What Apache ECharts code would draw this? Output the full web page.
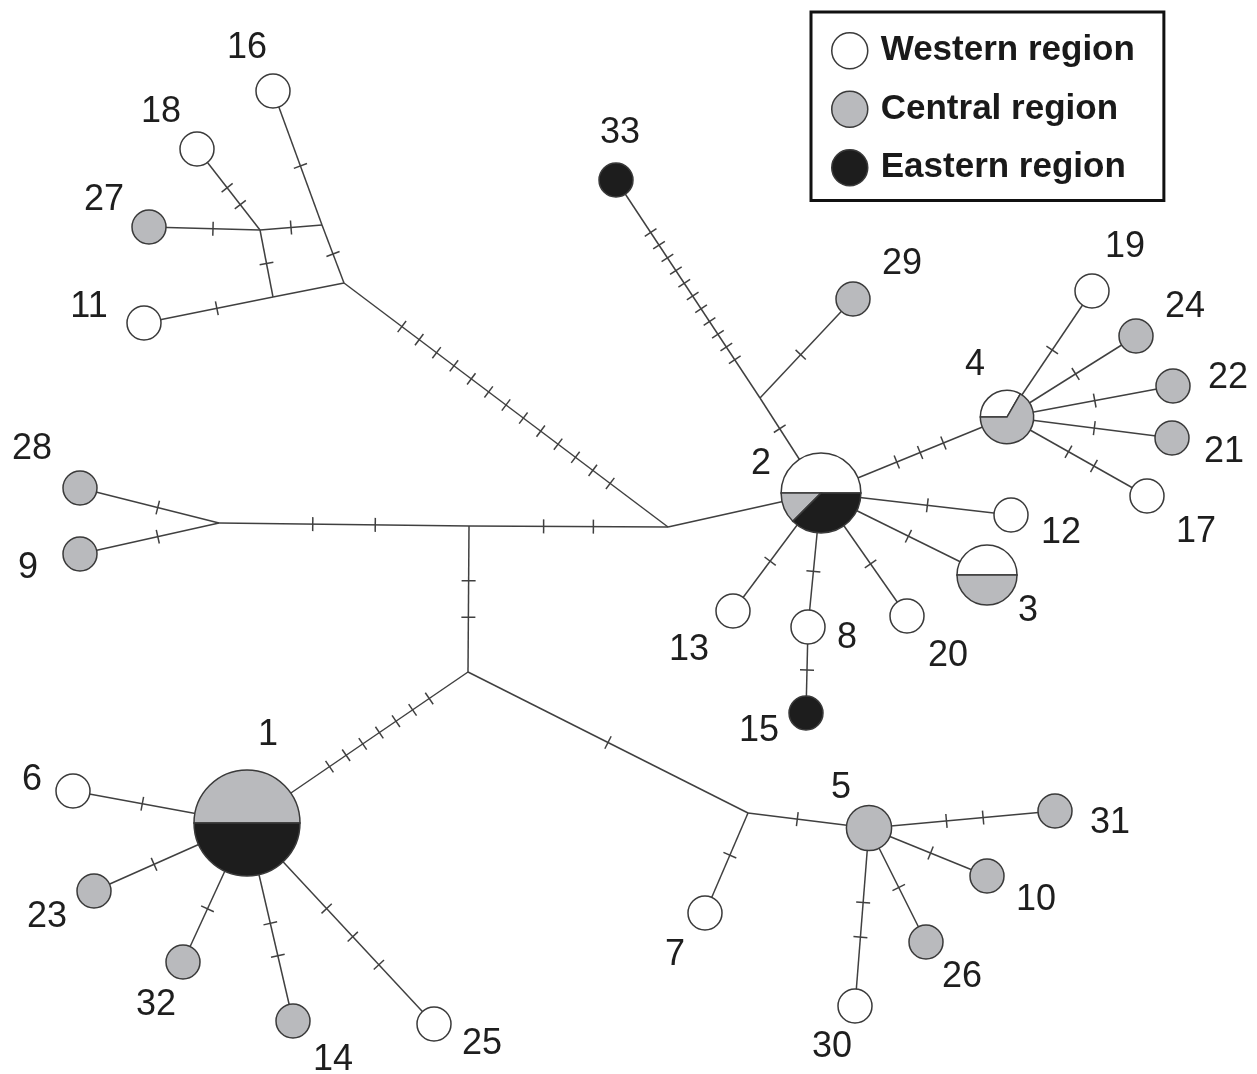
<!DOCTYPE html>
<html>
<head>
<meta charset="utf-8">
<script src="https://cdn.jsdelivr.net/npm/echarts@6/dist/echarts.min.js"></script>
<style>
  html, body { margin: 0; padding: 0; background: #fff; }
  #chart { width: 1257px; height: 1074px; }
</style>
</head>
<body>
<div id="chart"></div>
<script>
// haplotypes 1..33 and how many samples of each region they hold
const haplotypes = ['1','2','3','4','5','6','7','8','9','10','11','12','13','14','15','16','17',
  '18','19','20','21','22','23','24','25','26','27','28','29','30','31','32','33'];
const western = [0,4,2,1,0,1,1,1,0,0,1,1,1,0,0,1,1,1,1,1,0,0,0,0,1,0,0,0,0,1,0,0,0];
const central = [8,1,2,2,2,0,0,0,1,1,0,0,0,1,0,0,0,0,0,0,1,1,1,1,0,1,1,1,1,0,1,1,0];
const eastern = [8,3,0,0,0,0,0,0,0,0,0,0,0,0,1,0,0,0,0,0,0,0,0,0,0,0,0,0,0,0,0,0,1];
const regionNames = ['Western region', 'Central region', 'Eastern region'];

// network layout (drawing space, same units as the axes)
const hapX = [247,821,987,1007,869,73,705,808,80,987,144,1011,733,293,806,273,1147,
  197,1092,907,1172,1173,94,1136,434,926,149,80,853,855,1055,183,616];
const hapY = [823,493,575,417,828,791,913,627,554,876,323,515,611,1021,713,91,496,
  149,291,616,438,386,891,336,1024,942,227,488,299,1006,811,962,180];
// median vectors (unsampled nodes)
const medians = ['mA','mB','mC','mD','mE','mF','mG','mH','mI','mJ'];
const medX = [260,322,273,344,668,219,469,468,748,760];
const medY = [230,225,297,283,527,523,526,672,813,398];
// label anchors for each haplotype
const labelX = [268,761,1028,975,841,32,675,847,28,1036,89,1061,689,333,759,247,1196,
  161,1125,948,1224,1228,47,1185,482,962,104,32,902,832,1110,156,620];
const labelY = [735,464,611,365,788,780,955,638,568,900,307,533,650,1060,731,48,532,
  112,247,656,452,378,917,307,1044,977,200,449,264,1047,823,1005,133];

// links and number of mutation steps on each
const edgeFrom  = ['16','18','27','mA','mA','mB','11','mC','mD','mF','mG','28','9','mG','mH',
  '1','1','1','1','1','mH','mI','mI','5','5','5','5','mE','2','mJ','mJ','2',
  '4','4','4','4','4','2','2','2','2','8','2'];
const edgeTo    = ['mB','mA','mA','mB','mC','mD','mC','mD','mE','mG','mE','mF','mF','mH','1',
  '6','23','32','14','25','mI','5','7','31','10','26','30','2','mJ','33','29','4',
  '19','24','22','21','17','12','3','20','8','15','13'];
const edgeSteps = [1,2,1,1,1,1,1,0,13,2,2,1,1,2,7,
  1,1,1,2,3,1,1,1,2,1,1,2,0,1,11,1,3,
  1,1,1,1,2,1,1,1,1,1,1];

const fills = ['#ffffff', '#b9babd', '#1d1d1d'];
const stroke = '#3a3a3a';
const edgeColor = '#404040';
// white slice of haplotype 4 starts up-right
const sliceStart = { '4': -60 };

const pos = {};
haplotypes.forEach((h, i) => { pos[h] = [hapX[i], hapY[i]]; });
medians.forEach((m, i) => { pos[m] = [medX[i], medY[i]]; });

function total(id) {
  const i = haplotypes.indexOf(id);
  return i < 0 ? 0 : western[i] + central[i] + eastern[i];
}
function radius(id) {
  const n = total(id);
  return n ? 17 * Math.pow(n, 0.41) : 0;
}

function renderEdge(params, api) {
  const i = params.dataIndex;
  const p1 = api.coord([api.value(0), api.value(1)]);
  const p2 = api.coord([api.value(2), api.value(3)]);
  const n = api.value(4);
  const dx = p2[0] - p1[0], dy = p2[1] - p1[1];
  const len = Math.hypot(dx, dy);
  const ux = dx / len, uy = dy / len;
  const r1 = radius(edgeFrom[i]), r2 = radius(edgeTo[i]);
  const vis = len - r1 - r2;
  const mid = r1 + vis / 2;
  const gap = 0.75 * vis / (n + 1);
  const st = { stroke: edgeColor, lineWidth: 1.5 };
  const children = [{ type: 'line', shape: { x1: p1[0], y1: p1[1], x2: p2[0], y2: p2[1] }, style: st }];
  for (let k = 0; k < n; k++) {
    const t = mid + (k - (n - 1) / 2) * gap;
    const cx = p1[0] + ux * t, cy = p1[1] + uy * t;
    children.push({
      type: 'line',
      shape: { x1: cx - uy * 7, y1: cy + ux * 7, x2: cx + uy * 7, y2: cy - ux * 7 },
      style: st
    });
  }
  return { type: 'group', children };
}

function renderNode(params, api) {
  const i = params.dataIndex;
  const id = haplotypes[i];
  const c = api.coord([api.value(0), api.value(1)]);
  const r = radius(id);
  const n = total(id);
  const parts = [[0, western[i]], [1, central[i]], [2, eastern[i]]].filter(p => p[1] > 0);
  if (parts.length === 1) {
    return {
      type: 'circle',
      shape: { cx: c[0], cy: c[1], r },
      style: { fill: fills[parts[0][0]], stroke, lineWidth: 1.5 }
    };
  }
  let a = (sliceStart[id] || 0) * Math.PI / 180;
  const children = parts.map(p => {
    const span = p[1] / n * 2 * Math.PI;
    const s = {
      type: 'sector',
      shape: { cx: c[0], cy: c[1], r, r0: 0, startAngle: a - span, endAngle: a, clockwise: true },
      style: { fill: fills[p[0]], stroke, lineWidth: 1.5 }
    };
    a -= span;
    return s;
  });
  return { type: 'group', children };
}

function renderLabel(params, api) {
  const c = api.coord([api.value(0), api.value(1)]);
  return {
    type: 'text',
    style: {
      text: haplotypes[params.dataIndex],
      x: c[0], y: c[1],
      textAlign: 'center', textVerticalAlign: 'middle',
      font: '36px "Liberation Sans", Arial, sans-serif',
      fill: '#1e1e1e'
    }
  };
}

const chart = echarts.init(document.getElementById('chart'));
const option = {
  animation: false,
  grid: { left: 0, right: 0, top: 0, bottom: 0 },
  xAxis: { type: 'value', min: 0, max: 1257, show: false },
  yAxis: { type: 'value', min: 0, max: 1074, inverse: true, show: false },
  legend: {
    orient: 'vertical',
    left: 811, top: 12,
    padding: [20, 29, 14, 20],
    itemWidth: 36, itemHeight: 36, itemGap: 21,
    borderColor: '#111', borderWidth: 3,
    icon: 'circle',
    selectedMode: false,
    textStyle: {
      fontFamily: '"Liberation Sans", Arial, sans-serif',
      fontWeight: 'bold', fontSize: 35, color: '#1a1a1a',
      padding: [4, 0, 0, 8]
    },
    data: regionNames.map((name, k) => ({
      name, itemStyle: { color: fills[k], borderColor: stroke, borderWidth: 1.5, opacity: 1 }
    }))
  },
  series: [
    {
      type: 'custom', coordinateSystem: 'cartesian2d', silent: true, clip: false,
      renderItem: renderEdge,
      encode: { x: [0, 2], y: [1, 3] },
      data: edgeFrom.map((a, i) => [pos[a][0], pos[a][1], pos[edgeTo[i]][0], pos[edgeTo[i]][1], edgeSteps[i]])
    },
    {
      type: 'custom', coordinateSystem: 'cartesian2d', silent: true, clip: false,
      renderItem: renderNode,
      encode: { x: 0, y: 1 },
      data: haplotypes.map((h, i) => [hapX[i], hapY[i]])
    },
    {
      type: 'custom', coordinateSystem: 'cartesian2d', silent: true, clip: false,
      renderItem: renderLabel,
      encode: { x: 0, y: 1 },
      data: haplotypes.map((h, i) => [labelX[i], labelY[i]])
    }
  ].concat(regionNames.map((name, k) => ({
    type: 'scatter', name, data: [],
    itemStyle: { color: fills[k], borderColor: stroke, borderWidth: 1.5, opacity: 1 }
  })))
};
option && chart.setOption(option);
</script>
</body>
</html>
